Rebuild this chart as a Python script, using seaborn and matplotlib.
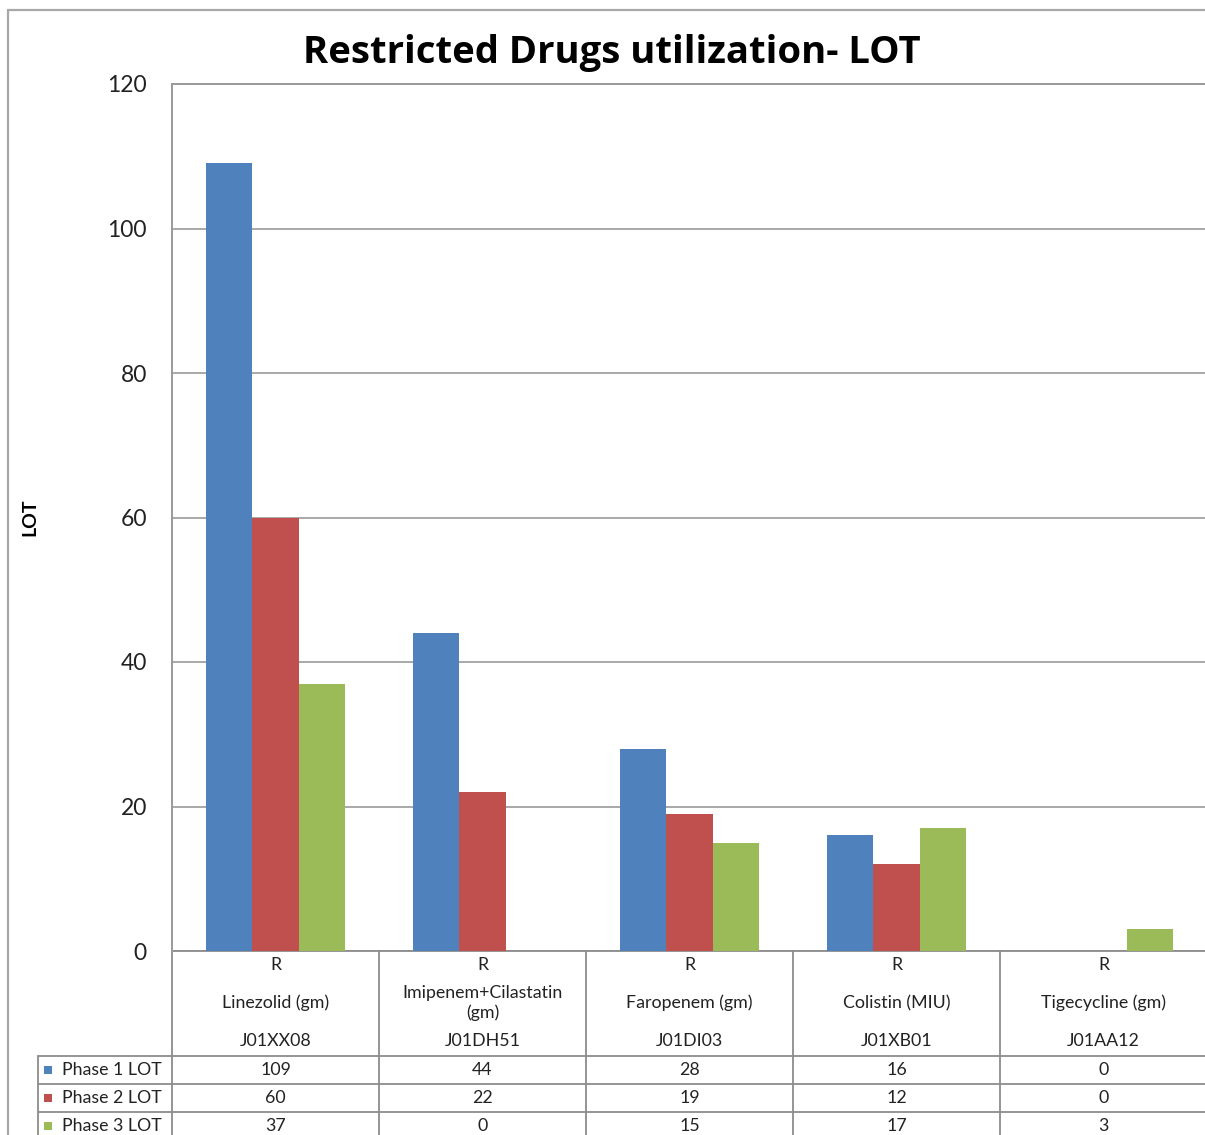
import matplotlib
matplotlib.use("Agg")
import matplotlib.pyplot as plt
import matplotlib.transforms as mtransforms
from matplotlib.lines import Line2D
from matplotlib.patches import Rectangle
import pandas as pd
import seaborn as sns

# ---- data ----
drugs = ["Linezolid (gm)", "Imipenem+Cilastatin\n(gm)", "Faropenem (gm)",
         "Colistin (MIU)", "Tigecycline (gm)"]
atc_codes = ["J01XX08", "J01DH51", "J01DI03", "J01XB01", "J01AA12"]
restriction = ["R", "R", "R", "R", "R"]
phases = ["Phase 1 LOT", "Phase 2 LOT", "Phase 3 LOT"]
phase1 = [109, 44, 28, 16, 0]
phase2 = [60, 22, 19, 12, 0]
phase3 = [37, 0, 15, 17, 3]
colors = ["#4F81BD", "#C0504D", "#9BBB59"]
yticks = [0, 20, 40, 60, 80, 100, 120]

df = pd.DataFrame({
    "drug": drugs * 3,
    "phase": [p for p in phases for _ in drugs],
    "value": phase1 + phase2 + phase3,
})

sns.set_theme(style="white")
plt.rcParams["font.family"] = ["Lato", "DejaVu Sans"]

W, H = 1205, 1135
fig = plt.figure(figsize=(W / 100, H / 100), dpi=100)
fig.patch.set_facecolor("white")

def fx(px):
    return px / W

def fy(py):
    return 1 - py / H

ax_left, ax_right, ax_top, ax_bot = 172, 1207, 84, 951
ax = fig.add_axes([fx(ax_left), fy(ax_bot), fx(ax_right - ax_left), fy(ax_top) - fy(ax_bot)])

sns.barplot(data=df, x="drug", y="value", hue="phase", palette=colors,
            width=0.667, saturation=1, legend=False, ax=ax, zorder=3,
            linewidth=0, edgecolor="none")

ax.set_ylim(0, 120)
ax.set_xlim(-0.5, len(drugs) - 0.5)
ax.set_yticks(yticks)
ax.set_yticklabels([str(t) for t in yticks], fontsize=16.5, color="#222222")
ax.tick_params(axis="y", length=0, pad=18)
ax.set_xticks([])
ax.set_xlabel("")
ax.set_ylabel("")
ax.grid(axis="y", color="#9A9A9A", linewidth=1.2, zorder=0)
for side in ["right", "bottom"]:
    ax.spines[side].set_visible(False)
for side in ["left", "top"]:
    ax.spines[side].set_color("#9A9A9A")
    ax.spines[side].set_linewidth(1.4)

# title and axis label
fig.text(fx(612), fy(53), "Restricted Drugs utilization- LOT", ha="center", va="center",
         fontsize=27.5, fontweight="bold", color="black", family=["Open Sans", "DejaVu Sans"])
fig.text(fx(30), fy(517), "LOT", rotation=90, ha="center", va="center",
         fontsize=14, fontweight="bold", color="black")

# outer chart frame
frame_c = "#A8A8A8"
fig.add_artist(Line2D([fx(8), fx(8)], [fy(10), fy(1140)], color=frame_c, lw=1.6))
fig.add_artist(Line2D([fx(8), fx(1210)], [fy(10), fy(10)], color=frame_c, lw=1.6))

# data table below the plot
tr = mtransforms.blended_transform_factory(ax.transData, fig.transFigure)
line_c = "#8C8C8C"
n = len(drugs)
row_y = [1056, 1084, 1112, 1140]
for i in range(n + 1):
    x = i - 0.5
    ax.add_line(Line2D([x, x], [fy(ax_bot), fy(1140)], transform=tr, color=line_c,
                       lw=1.3, clip_on=False))
ax.add_line(Line2D([-0.5, n], [fy(ax_bot), fy(ax_bot)], transform=tr, color=line_c,
                   lw=1.3, clip_on=False))
for y in row_y[:-1]:
    fig.add_artist(Line2D([fx(38), fx(1210)], [fy(y), fy(y)], color=line_c, lw=1.3))
fig.add_artist(Line2D([fx(38), fx(38)], [fy(1056), fy(1140)], color=line_c, lw=1.3))

txt_c = "#222222"
fs = 12.8
for i in range(n):
    ax.text(i, fy(965), restriction[i], transform=tr, ha="center", va="center",
            fontsize=fs, color=txt_c)
    ax.text(i, fy(1003), drugs[i], transform=tr, ha="center", va="center",
            fontsize=fs, color=txt_c, linespacing=1.2)
    ax.text(i, fy(1041), atc_codes[i], transform=tr, ha="center", va="center",
            fontsize=fs, color=txt_c)

series = [phase1, phase2, phase3]
for r, (name, vals, col) in enumerate(zip(phases, series, colors)):
    yc = (row_y[r] + row_y[r + 1]) / 2
    fig.add_artist(Rectangle((fx(44), fy(yc + 4)), fx(8), fy(yc - 4) - fy(yc + 4),
                             facecolor=col, edgecolor="none"))
    fig.text(fx(62), fy(yc), name, ha="left", va="center", fontsize=fs, color=txt_c)
    for i, v in enumerate(vals):
        ax.text(i, fy(yc), str(v), transform=tr, ha="center", va="center",
                fontsize=fs, color=txt_c)

fig.savefig("out.png", dpi=100, facecolor="white")
